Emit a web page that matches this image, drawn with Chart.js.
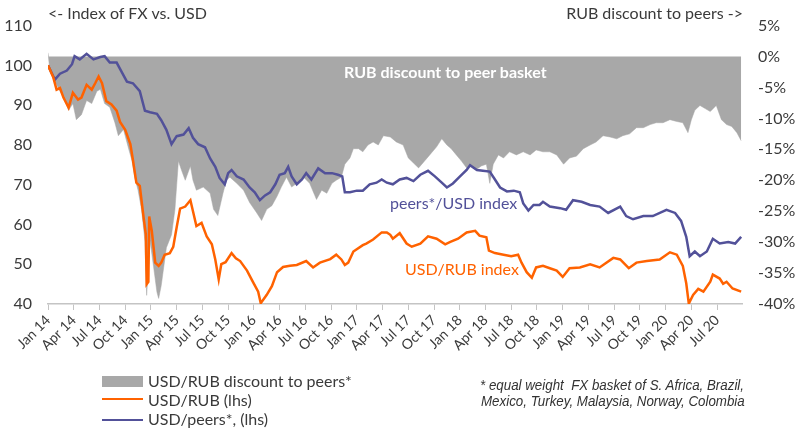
<!DOCTYPE html>
<html>
<head>
<meta charset="utf-8">
<script src="https://cdn.jsdelivr.net/npm/chart.js@4.4.1/dist/chart.umd.min.js"></script>
<style>
  html, body { margin: 0; padding: 0; background: #fff; }
  body { width: 800px; height: 434px; overflow: hidden; font-family: Lato, "Open Sans", sans-serif; color: #333; }
  #wrap { position: relative; width: 800px; height: 434px; }
  #chartBox { position: absolute; left: 0; top: 0; width: 800px; height: 434px; }
  .txt { position: absolute; white-space: nowrap; line-height: 1; }
  .title { font-size: 16px; color: #3a3a3a; }
  .ann { font-size: 16px; }
  .leg { font-size: 16px; color: #3a3a3a; }
  .swatch { position: absolute; }
  .foot { font-family: "Liberation Sans", Arial, sans-serif; font-style: italic; font-size: 15.5px; color: #333; transform: scaleX(0.86); transform-origin: 0 0; }
</style>
</head>
<body>
<div id="wrap">
  <div id="chartBox"><canvas id="c"></canvas></div>

  <div class="txt title" style="left:48px; top:5px;">&lt;- Index of FX vs. USD</div>
  <div class="txt title" style="right:57px; top:5px;">RUB discount to peers -&gt;</div>

  <div class="txt ann" style="left:344px; top:64px; color:#ffffff; font-weight:bold;">RUB discount to peer basket</div>
  <div class="txt ann" style="left:390px; top:195px; color:#525199;">peers*/USD index</div>
  <div class="txt ann" style="left:405px; top:261px; color:#FF6200;">USD/RUB index</div>

  <div class="swatch" style="left:102px; top:376px; width:41px; height:11px; background:#a8a8a8;"></div>
  <div class="txt leg" style="left:148px; top:373px;">USD/RUB discount to peers*</div>
  <div class="swatch" style="left:102px; top:398px; width:41px; height:2px; background:#FF6200;"></div>
  <div class="txt leg" style="left:148px; top:392px;">USD/RUB (lhs)</div>
  <div class="swatch" style="left:102px; top:419px; width:41px; height:2px; background:#525199;"></div>
  <div class="txt leg" style="left:148px; top:411px;">USD/peers*, (lhs)</div>

  <div class="txt foot" style="left:480px; top:377px;">* equal weight&nbsp; FX basket of S. Africa, Brazil,</div>
  <div class="txt foot" style="left:481px; top:393px;">Mexico, Turkey, Malaysia, Norway, Colombia</div>
</div>

<script>
// x values are months since Jan 2014 (0 = Jan 14)
const quarterLabels = [
  'Jan 14','Apr 14','Jul 14','Oct 14',
  'Jan 15','Apr 15','Jul 15','Oct 15',
  'Jan 16','Apr 16','Jul 16','Oct 16',
  'Jan 17','Apr 17','Jul 17','Oct 17',
  'Jan 18','Apr 18','Jul 18','Oct 18',
  'Jan 19','Apr 19','Jul 19','Oct 19',
  'Jan 20','Apr 20','Jul 20'
];

// USD/RUB index (lhs)
const rubMonths = [0,0.6,1.0,1.4,1.8,2.4,2.9,3.5,3.9,4.5,5.1,5.5,5.9,6.3,6.8,7.4,8.0,8.4,9.0,9.6,9.9,10.3,10.7,11.1,11.4,11.5,11.7,11.8,12.1,12.5,12.9,13.2,13.6,14.2,14.6,15.0,15.4,16.0,16.6,16.9,17.3,17.9,18.5,19.1,19.5,19.9,20.2,20.7,21.4,21.9,22.4,23.2,23.9,24.5,24.8,25.5,26.1,26.7,27.4,28.2,29.0,30.1,30.9,31.7,32.9,33.6,34.2,34.6,35.0,35.6,36.7,37.1,37.9,38.9,39.5,39.9,40.2,41.0,41.8,42.4,43.4,44.3,45.3,46.3,46.9,47.8,48.8,49.8,50.3,51.1,51.4,52.1,53.1,54.0,54.8,55.2,55.8,56.4,56.9,57.7,58.5,59.3,60.0,60.8,62.0,63.2,64.3,65.9,66.7,67.7,68.6,69.8,71.3,72.5,73.3,74.0,74.4,74.7,75.2,75.8,76.4,77.2,77.5,78.3,78.7,79.1,79.8,80.8];
const rubIndex  = [100,97.1,93.9,94.3,91.9,89.4,93.1,91.4,91.9,95.1,93.9,95.5,97.2,95.5,91.0,90.2,88.6,85.8,83.8,80.2,76.2,70.5,69.7,62.5,57.6,45.0,45.6,62.0,58.4,50.4,49.6,50.4,52.4,52.8,54.4,59.3,64.0,64.5,66.1,63.3,59.6,60.4,57.0,55.0,51.2,46.2,50.0,50.5,52.8,51.5,50.8,48.4,45.5,43.1,40.2,42.3,44.5,48.0,49.3,49.6,49.8,50.8,49.2,50.4,51.3,52.4,51.2,49.8,50.4,53.2,54.8,55.2,56.2,58.0,58.0,57.4,56.4,57.8,55.2,54.4,55.2,57.0,56.4,55.0,55.6,56.4,58.0,58.4,57.2,56.8,53.4,52.8,52.4,52.0,52.4,50.4,48.0,46.6,49.2,49.6,49.0,48.4,46.8,49.0,49.2,50.0,49.2,51.6,51.2,49.0,50.4,50.8,51.2,53.0,52.4,49.6,45.2,40.1,42.3,43.8,43.1,45.6,47.4,46.4,45.1,45.6,43.9,43.1];

// USD/peers* index (lhs)
const peersMonths = [0,0.8,1.4,2.2,2.8,3.1,3.7,4.5,5.3,6.1,6.6,7.2,8.0,8.6,9.2,9.9,10.7,11.3,11.9,12.7,13.2,13.8,14.4,15.0,15.8,16.4,16.9,17.5,18.3,18.9,19.5,20.0,20.6,21.0,21.4,22.0,22.8,23.5,24.1,24.7,25.3,25.9,26.5,27.0,27.6,28.0,28.4,29.0,29.6,30.1,30.7,31.5,32.3,33.1,33.8,34.3,34.6,35.2,36.0,36.7,37.5,38.3,38.9,39.5,40.2,41.0,41.8,42.6,43.4,44.3,45.1,45.9,46.5,47.2,48.0,48.8,49.2,50.0,50.7,51.5,52.1,52.7,53.5,54.3,55.0,55.4,56.0,56.6,57.3,57.7,58.5,59.7,60.4,61.2,62.2,63.2,64.3,65.3,66.7,67.4,68.2,69.4,70.5,72.1,73.1,73.8,74.4,74.8,75.4,76.0,76.8,77.5,78.3,79.3,80.1,80.8];
const peersIndex  = [100,96.4,97.9,98.7,100.3,102.3,101.5,102.9,101.5,102.1,102.3,100.7,100.7,98.3,95.9,95.5,93.5,88.6,88.2,87.8,86.2,83.8,80.2,82.2,82.6,84.2,81.8,80.2,79.4,76.6,74.5,71.7,70.1,72.9,73.7,72.1,71.3,69.3,68.1,66.1,67.3,68.1,70.1,72.5,72.9,74.5,72.1,70.1,71.3,72.9,71.3,74.1,72.9,72.9,72.5,72.1,68.1,68.1,68.5,68.5,70.1,70.5,71.3,70.5,70.1,71.3,71.7,70.9,72.5,73.5,72.1,70.5,69.3,70.3,72.0,73.7,74.9,73.7,73.5,73.3,71.3,69.3,68.3,68.5,68.1,65.3,63.5,64.9,64.9,65.7,64.5,64.1,63.7,66.1,65.7,64.9,64.5,62.9,64.5,62.1,61.3,62.1,62.1,63.7,62.9,60.9,56.9,52.0,53.2,52.0,53.2,56.4,55.2,55.6,55.2,56.9];

// USD/RUB discount to peers*, % (rhs)
const discMonths = [0,0.2,0.8,1.4,2.0,2.4,2.9,3.3,3.9,4.5,5.1,5.7,6.1,6.6,7.2,7.8,8.2,8.8,9.4,9.8,10.1,10.5,10.9,11.3,11.5,11.9,12.3,12.7,12.9,13.2,13.8,14.4,14.8,15.2,15.6,16.0,16.6,16.9,17.3,18.1,18.9,19.3,19.8,20.4,20.8,21.2,22.0,22.8,23.5,24.3,24.9,25.5,26.1,26.7,27.2,27.8,28.4,29.0,29.8,30.5,31.3,31.9,32.5,33.1,33.6,34.2,34.6,35.2,35.6,36.2,36.7,37.3,37.9,38.5,39.1,39.9,40.6,41.4,42.0,42.6,43.2,43.7,44.5,45.3,45.9,46.5,47.0,47.6,48.2,48.8,49.4,50.0,50.5,51.1,51.5,51.9,52.5,53.1,53.8,54.6,55.4,56.2,56.9,57.7,58.5,59.3,60.1,60.8,61.6,62.4,63.2,63.9,64.7,65.5,66.3,67.0,67.8,68.6,69.4,70.2,70.9,71.7,72.5,73.3,74.0,74.6,75.0,75.4,76.0,76.6,77.2,77.9,78.5,79.1,79.7,80.3,80.8];
const discPct    = [0.6,-2.0,-4.0,-5.6,-7.1,-8.7,-7.6,-10.2,-9.4,-7.1,-7.6,-5.6,-5.3,-7.6,-8.2,-10.7,-12.8,-11.8,-14.9,-16.9,-19.5,-21.6,-24.7,-29.8,-38.6,-29.8,-33.9,-38.1,-39.1,-37.0,-30.9,-28.8,-24.7,-16.9,-18.5,-20.0,-17.7,-20.0,-21.6,-21.1,-22.1,-24.7,-25.7,-22.1,-20.0,-19.5,-20.5,-21.6,-23.6,-25.2,-26.5,-24.7,-24.1,-22.6,-21.1,-19.5,-21.1,-20.5,-19.5,-20.5,-23.1,-21.6,-22.1,-20.5,-20.0,-19.5,-17.4,-16.4,-14.9,-14.9,-15.4,-14.3,-13.8,-14.3,-12.8,-13.0,-13.8,-14.3,-16.4,-17.2,-18.0,-17.2,-15.9,-14.6,-13.3,-14.3,-14.9,-15.9,-16.9,-18.0,-17.7,-18.2,-17.7,-17.4,-20.5,-17.4,-15.9,-16.4,-15.4,-15.9,-15.4,-15.9,-15.1,-15.4,-15.4,-15.9,-17.4,-16.4,-16.1,-14.9,-14.3,-13.8,-12.8,-13.0,-13.3,-12.8,-12.5,-11.5,-11.5,-11.0,-10.7,-10.7,-10.2,-10.5,-10.7,-12.3,-10.2,-8.7,-7.9,-8.4,-8.9,-7.9,-10.2,-11.0,-11.3,-12.3,-13.6];

const xMax = 80.9;

function pts(xs, ys) { return xs.map((x, i) => ({ x: x, y: ys[i] })); }

const textColor = '#3a3a3a';
const axisGray = '#c4c4c4';
Chart.defaults.font.family = 'Lato, "Open Sans", sans-serif';
Chart.defaults.color = textColor;

new Chart(document.getElementById('c'), {
  type: 'line',
  data: {
    datasets: [
      {
        label: 'USD/RUB (lhs)',
        data: pts(rubMonths, rubIndex),
        yAxisID: 'y',
        borderColor: '#FF6200',
        borderWidth: 2.5,
        pointRadius: 0,
        fill: false,
        tension: 0,
        order: 1
      },
      {
        label: 'USD/peers*, (lhs)',
        data: pts(peersMonths, peersIndex),
        yAxisID: 'y',
        borderColor: '#525199',
        borderWidth: 2.5,
        pointRadius: 0,
        fill: false,
        tension: 0,
        order: 2
      },
      {
        label: 'USD/RUB discount to peers*',
        data: pts(discMonths, discPct),
        yAxisID: 'y1',
        borderColor: '#a8a8a8',
        borderWidth: 0.5,
        backgroundColor: '#a8a8a8',
        pointRadius: 0,
        fill: 'origin',
        tension: 0,
        order: 3
      }
    ]
  },
  options: {
    responsive: true,
    maintainAspectRatio: false,
    animation: false,
    events: [],
    layout: { padding: { top: 13, bottom: 80, left: 0, right: 0 } },
    plugins: { legend: { display: false }, tooltip: { enabled: false } },
    scales: {
      x: {
        type: 'linear',
        min: 0,
        max: xMax,
        afterBuildTicks: (scale) => {
          scale.ticks = quarterLabels.map((_, i) => ({ value: i * 3 }));
        },
        afterFit: (scale) => { scale.height = 50; },
        grid: { display: true, drawOnChartArea: false, drawTicks: true, tickLength: 6, color: axisGray, lineWidth: 1 },
        border: { display: true, color: axisGray, width: 1.5 },
        ticks: {
          autoSkip: false,
          minRotation: 45,
          maxRotation: 45,
          padding: 2,
          font: { size: 14 },
          color: textColor,
          callback: (v) => quarterLabels[Math.round(v / 3)] || ''
        }
      },
      y: {
        position: 'left',
        min: 40,
        max: 110,
        afterFit: (scale) => { scale.width = 48; },
        grid: { display: false, drawTicks: false },
        border: { display: false },
        ticks: { stepSize: 10, padding: 16, font: { size: 16 }, color: textColor }
      },
      y1: {
        position: 'right',
        min: -40,
        max: 5,
        afterFit: (scale) => { scale.width = 58; },
        grid: { display: false, drawTicks: false },
        border: { display: false },
        ticks: { stepSize: 5, padding: 16, font: { size: 16 }, color: textColor, callback: (v) => v + '%' }
      }
    }
  }
});
</script>
</body>
</html>
